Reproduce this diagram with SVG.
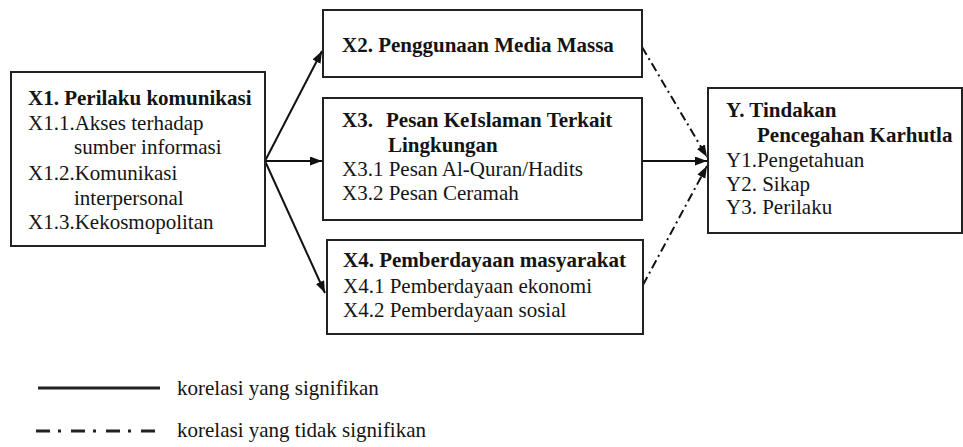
<svg xmlns="http://www.w3.org/2000/svg" width="963" height="447" viewBox="0 0 963 447">
<style>
.box{fill:#fff;stroke:#222;stroke-width:2}
text{font-family:"Liberation Serif","Times New Roman",serif;font-size:21px;fill:#141414}
.b{font-weight:bold}
.sol{stroke:#111;stroke-width:2;fill:none}
.dd{stroke:#111;stroke-width:2;fill:none;stroke-dasharray:9 4 2 4}
.leg{stroke:#222;stroke-width:3;fill:none}
</style>
<defs>
<marker id="ah" markerUnits="userSpaceOnUse" markerWidth="13" markerHeight="10" refX="12" refY="4.5" orient="auto">
<path d="M0,0 L12,4.5 L0,9 z" fill="#111"/>
</marker>
</defs>
<rect width="963" height="447" fill="#fff"/>
<g id="connectors">
<line class="sol" x1="265" y1="161" x2="322" y2="51" marker-end="url(#ah)"/>
<line class="sol" x1="265" y1="161" x2="322" y2="161" marker-end="url(#ah)"/>
<line class="sol" x1="265" y1="161" x2="325" y2="293" marker-end="url(#ah)"/>
<line class="sol" x1="642" y1="161" x2="707" y2="161" marker-end="url(#ah)"/>
<line class="dd" x1="642" y1="47" x2="707" y2="157" marker-end="url(#ah)"/>
<line class="dd" x1="643" y1="285" x2="707" y2="166" marker-end="url(#ah)"/>
</g>
<g id="x1">
<rect class="box" x="11" y="72" width="254" height="174"/>
<text class="b" x="28" y="105">X1. Perilaku komunikasi</text>
<text x="28" y="130">X1.1.Akses terhadap</text>
<text x="74" y="154">sumber informasi</text>
<text x="28" y="180">X1.2.Komunikasi</text>
<text x="74" y="205">interpersonal</text>
<text x="28" y="229">X1.3.Kekosmopolitan</text>
</g>
<g id="x2">
<rect class="box" x="323" y="10" width="319" height="67"/>
<text class="b" x="342" y="52">X2. Penggunaan Media Massa</text>
</g>
<g id="x3">
<rect class="box" x="323" y="98" width="319" height="122"/>
<text class="b" x="342" y="127">X3.<tspan x="386">Pesan KeIslaman Terkait</tspan></text>
<text class="b" x="388" y="152">Lingkungan</text>
<text x="342" y="176">X3.1 Pesan Al-Quran/Hadits</text>
<text x="342" y="200">X3.2 Pesan Ceramah</text>
</g>
<g id="x4">
<rect class="box" x="327" y="240" width="316" height="94"/>
<text class="b" x="343" y="267">X4. Pemberdayaan masyarakat</text>
<text x="343" y="293">X4.1 Pemberdayaan ekonomi</text>
<text x="343" y="317">X4.2 Pemberdayaan sosial</text>
</g>
<g id="y">
<rect class="box" x="708" y="88" width="254" height="145"/>
<text class="b" x="726" y="117">Y. Tindakan</text>
<text class="b" x="757" y="142">Pencegahan Karhutla</text>
<text x="726" y="167">Y1.Pengetahuan</text>
<text x="726" y="191">Y2. Sikap</text>
<text x="726" y="214">Y3. Perilaku</text>
</g>
<g id="legend">
<line class="leg" x1="38" y1="388" x2="160" y2="388"/>
<text x="177" y="395">korelasi yang signifikan</text>
<line class="leg" x1="36" y1="431" x2="160" y2="431" stroke-dasharray="14 8 3 10"/>
<text x="177" y="437">korelasi yang tidak signifikan</text>
</g>
</svg>
